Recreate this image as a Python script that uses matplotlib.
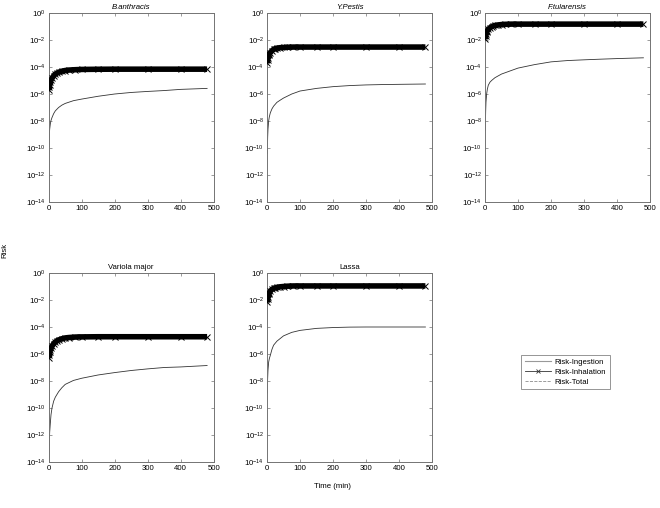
"""
Five-panel risk-vs-time chart (ingestion / inhalation / total) on log axes.
"""
import numpy as np
import matplotlib
matplotlib.use("Agg")
import matplotlib.pyplot as plt
from matplotlib.lines import Line2D
from matplotlib.ticker import LogFormatterSciNotation, FixedLocator, NullLocator

FS = 5.6
plt.rcParams.update({
    "font.family": ["Liberation Sans", "DejaVu Sans"],
    "font.size": FS,
    "mathtext.fontset": "custom",
    "mathtext.rm": "Liberation Sans",
    "mathtext.it": "Liberation Sans:italic",
    "axes.linewidth": 0.8,
})

# ---- data ----
agents = ["B.anthracis", "Y.Pestis", "F.tularensis", "Variola major", "Lassa"]
italic_titles = [True, True, True, False, False]

t_inh = [1, 2, 3, 5, 7, 10, 15, 20, 25, 30, 40, 50, 60, 80, 100, 150, 200, 300, 400, 480]
inh_banth = [2.0e-6, 3.5e-6, 5.0e-6, 7.9e-6, 1.1e-5, 1.45e-5, 2.2e-5, 3.0e-5, 3.5e-5, 4.1e-5,
             4.9e-5, 5.5e-5, 5.9e-5, 6.3e-5, 6.6e-5, 6.8e-5, 6.9e-5, 6.9e-5, 6.9e-5, 6.9e-5]
inh_ypest = [1.9e-4, 3.5e-4, 5.0e-4, 7.5e-4, 9.5e-4, 1.15e-3, 1.6e-3, 2.0e-3, 2.3e-3, 2.5e-3,
             2.7e-3, 2.8e-3, 2.9e-3, 3.0e-3, 3.0e-3, 3.0e-3, 3.0e-3, 3.0e-3, 3.0e-3, 3.0e-3]
inh_ftul = [1.15e-2, 2.0e-2, 2.8e-2, 4.0e-2, 5.0e-2, 6.0e-2, 8.0e-2, 9.5e-2, 0.11, 0.12,
            0.13, 0.14, 0.145, 0.15, 0.15, 0.15, 0.15, 0.15, 0.15, 0.15]
inh_variola = [5.2e-7, 9.0e-7, 1.3e-6, 2.0e-6, 2.7e-6, 3.8e-6, 5.8e-6, 7.5e-6, 9.5e-6, 1.1e-5,
               1.35e-5, 1.55e-5, 1.65e-5, 1.8e-5, 1.85e-5, 1.9e-5, 1.9e-5, 1.9e-5, 1.9e-5, 1.9e-5]
inh_lassa = [6.6e-3, 1.2e-2, 1.7e-2, 2.6e-2, 3.4e-2, 4.6e-2, 6.0e-2, 7.2e-2, 8.0e-2, 8.7e-2,
             9.5e-2, 0.10, 0.105, 0.11, 0.11, 0.11, 0.11, 0.11, 0.11, 0.11]

t_ing = [1, 2, 3, 5, 7, 10, 15, 20, 30, 40, 50, 75, 100, 150, 200, 250, 300, 350, 400, 480]
ing_banth = [1.2e-10, 1.0e-9, 2.5e-9, 6.3e-9, 1.1e-8, 1.8e-8, 3.5e-8, 5.6e-8, 1.0e-7, 1.5e-7,
             2.0e-7, 3.2e-7, 4.2e-7, 6.8e-7, 1.0e-6, 1.3e-6, 1.55e-6, 1.8e-6, 2.2e-6, 2.6e-6]
ing_ypest = [4.0e-11, 6.3e-10, 2.5e-9, 1.0e-8, 2.0e-8, 4.0e-8, 7.9e-8, 1.26e-7, 2.4e-7, 3.5e-7,
             5.0e-7, 1.0e-6, 1.66e-6, 2.6e-6, 3.5e-6, 4.2e-6, 4.7e-6, 5.0e-6, 5.2e-6, 5.5e-6]
ing_ftul = [2.1e-9, 5.0e-8, 2.5e-7, 1.0e-6, 2.2e-6, 4.5e-6, 7.5e-6, 1.0e-5, 1.6e-5, 2.2e-5,
            3.0e-5, 5.0e-5, 8.3e-5, 1.5e-4, 2.4e-4, 3.0e-4, 3.4e-4, 3.8e-4, 4.2e-4, 4.8e-4]
ing_variola = [2.0e-14, 3.2e-13, 1.6e-12, 7.9e-12, 3.2e-11, 1.0e-10, 3.2e-10, 6.3e-10, 1.6e-9, 3.2e-9,
               5.6e-9, 1.1e-8, 1.6e-8, 2.8e-8, 4.2e-8, 6.0e-8, 7.9e-8, 1.0e-7, 1.1e-7, 1.4e-7]
ing_lassa = [1.3e-9, 1.6e-8, 6.3e-8, 2.5e-7, 4.5e-7, 7.9e-7, 2.2e-6, 4.5e-6, 8.9e-6, 1.4e-5,
             2.2e-5, 4.0e-5, 5.6e-5, 7.9e-5, 9.1e-5, 9.8e-5, 1.0e-4, 1.0e-4, 1.0e-4, 1.0e-4]

inhalation = [inh_banth, inh_ypest, inh_ftul, inh_variola, inh_lassa]
ingestion = [ing_banth, ing_ypest, ing_ftul, ing_variola, ing_lassa]

xticks = [0, 100, 200, 300, 400, 500]
yticks = [1e-14, 1e-12, 1e-10, 1e-8, 1e-6, 1e-4, 1e-2, 1e0]

# ---- layout ----
W, H = 660, 508
fig = plt.figure(figsize=(W / 100, H / 100), dpi=100)
lefts = [48.7, 267, 485, 48.7, 267]
tops = [13, 13, 13, 273, 273]
aw, ah = 165, 189

frame = "0.45"
for i, name in enumerate(agents):
    ax = fig.add_axes([lefts[i] / W, 1 - (tops[i] + ah) / H, aw / W, ah / H])
    ax.set_yscale("log")
    # total is hidden under the inhalation band, as in the original
    total = np.array(inhalation[i]) + np.interp(t_inh, t_ing, ingestion[i])
    ax.plot(t_inh, total, color="0.5", lw=0.6, ls="--", zorder=1)
    ax.plot(t_ing, ingestion[i], color="0.2", lw=0.6, zorder=2)
    ax.plot(t_inh, inhalation[i], color="black", lw=4.0, solid_capstyle="butt", zorder=3)
    ax.plot(t_inh, inhalation[i], ls="none", marker="x", ms=4.5, mew=0.7, color="black", zorder=4)
    ax.set_xlim(0, 500)
    ax.set_ylim(1e-14, 1)
    ax.xaxis.set_major_locator(FixedLocator(xticks))
    ax.yaxis.set_major_locator(FixedLocator(yticks))
    ax.yaxis.set_major_formatter(LogFormatterSciNotation())
    ax.yaxis.set_minor_locator(NullLocator())
    ax.tick_params(direction="in", top=True, right=True, length=2.5, width=0.5,
                   color=frame, labelsize=FS, pad=2)
    for s in ax.spines.values():
        s.set_color(frame)
        s.set_linewidth(0.7)
    ax.set_title(name, fontsize=FS, pad=3, style="italic" if italic_titles[i] else "normal")

fig.text(5 / W, 1 - 250 / H, "Risk", rotation=90, ha="center", va="center", fontsize=FS)
fig.text(333 / W, 1 - 487 / H, "Time (min)", ha="center", va="center", fontsize=FS)

handles = [
    Line2D([], [], color="0.6", lw=0.8),
    Line2D([], [], color="0.2", lw=0.6, marker="x", ms=3, mew=0.6),
    Line2D([], [], color="0.55", lw=0.6, ls="--"),
]
leg = fig.legend(handles, ["Risk-Ingestion", "Risk-Inhalation", "Risk-Total"],
                 loc="upper left", bbox_to_anchor=(521 / W, 1 - 355 / H),
                 borderaxespad=0, fontsize=FS, frameon=True, fancybox=False,
                 handlelength=3.4, borderpad=0.45, labelspacing=0.3, handletextpad=0.5)
leg.get_frame().set_edgecolor("0.4")
leg.get_frame().set_linewidth(0.6)

fig.savefig("out.png", dpi=100)
